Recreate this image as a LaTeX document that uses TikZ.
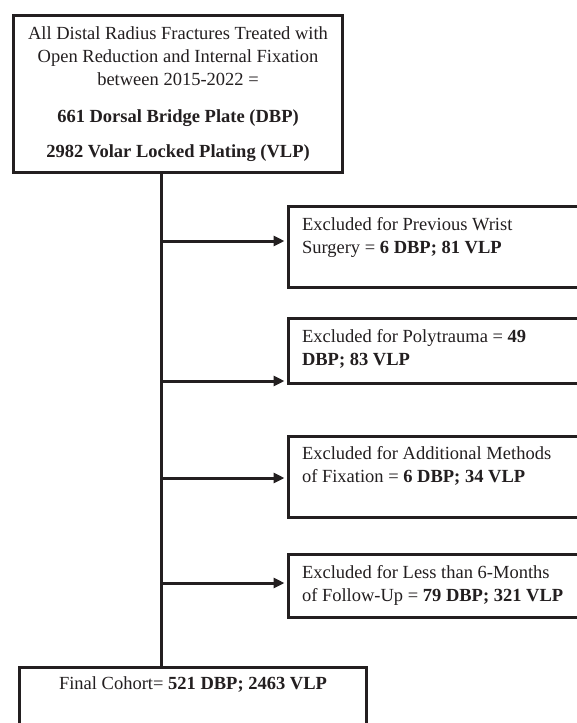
\documentclass[tikz,border=0pt]{standalone}
\usepackage{fontspec}
\setmainfont{Liberation Serif}
\usetikzlibrary{arrows.meta}
\definecolor{ink}{HTML}{231F20}
\begin{document}
\begin{tikzpicture}[x=1pt,y=-1pt,
  frame/.style={draw=ink, line width=3pt, rectangle, inner sep=0pt, outer sep=0pt, anchor=north west},
  conn/.style={draw=ink, line width=3pt},
  arr/.style={conn, -{Triangle[length=11pt,width=10pt]}, shorten >=4pt},
  txt/.style={font=\fontsize{18.5}{23}\selectfont, text=ink, inner sep=0pt, outer sep=0pt},
]
\useasboundingbox (0,0) rectangle (576,723);
\fill[white] (0,0) rectangle (576,723);

% boxes (path coordinates = outer edge + 1.5)
\node[frame, minimum width=329pt, minimum height=157pt] (top) at (13.5,15.5) {};
\node[frame, minimum width=320pt, minimum height=81pt] (b1) at (288.5,206.5) {};
\node[frame, minimum width=320pt, minimum height=65pt] (b2) at (288.5,318.5) {};
\node[frame, minimum width=320pt, minimum height=81pt] (b3) at (288.5,436.5) {};
\node[frame, minimum width=320pt, minimum height=63pt] (b4) at (288.5,554.5) {};
\node[frame, minimum width=347pt, minimum height=100pt] (fin) at (19.5,667.5) {};

% texts
\node[txt, align=center, anchor=north] (ttop) at (178,26.5)
  {All Distal Radius Fractures Treated with\\Open Reduction and Internal Fixation\\between 2015-2022 =\\[14pt]
   \textbf{661 Dorsal Bridge Plate (DBP)}\\[12pt]\textbf{2982 Volar Locked Plating (VLP)}};
\node[txt, align=left, anchor=north west] (t1) at (302,217.5)
  {Excluded for Previous Wrist\\Surgery = \textbf{6 DBP; 81 VLP}};
\node[txt, align=left, anchor=north west] (t2) at (302,329.5)
  {Excluded for Polytrauma = \textbf{49}\\\textbf{DBP; 83 VLP}};
\node[txt, align=left, anchor=north west] (t3) at (302,446.5)
  {Excluded for Additional Methods\\of Fixation = \textbf{6 DBP; 34 VLP}};
\node[txt, align=left, anchor=north west] (t4) at (302,565.5)
  {Excluded for Less than 6-Months\\of Follow-Up = \textbf{79 DBP; 321 VLP}};
\node[txt, anchor=north] (tfin) at (193,676.5)
  {Final Cohort= \textbf{521 DBP; 2463 VLP}};

% trunk and branches
\coordinate (trunk) at (161,0);
\coordinate (j1) at (161,241);
\coordinate (j2) at (161,381);
\coordinate (j3) at (161,478);
\coordinate (j4) at (161,583);
\draw[conn] (top.south -| trunk) -- (fin.north -| trunk);
\draw[arr] (j1) -- (j1 -| b1.west);
\draw[arr] (j2) -- (j2 -| b2.west);
\draw[arr] (j3) -- (j3 -| b3.west);
\draw[arr] (j4) -- (j4 -| b4.west);
\end{tikzpicture}
\end{document}
